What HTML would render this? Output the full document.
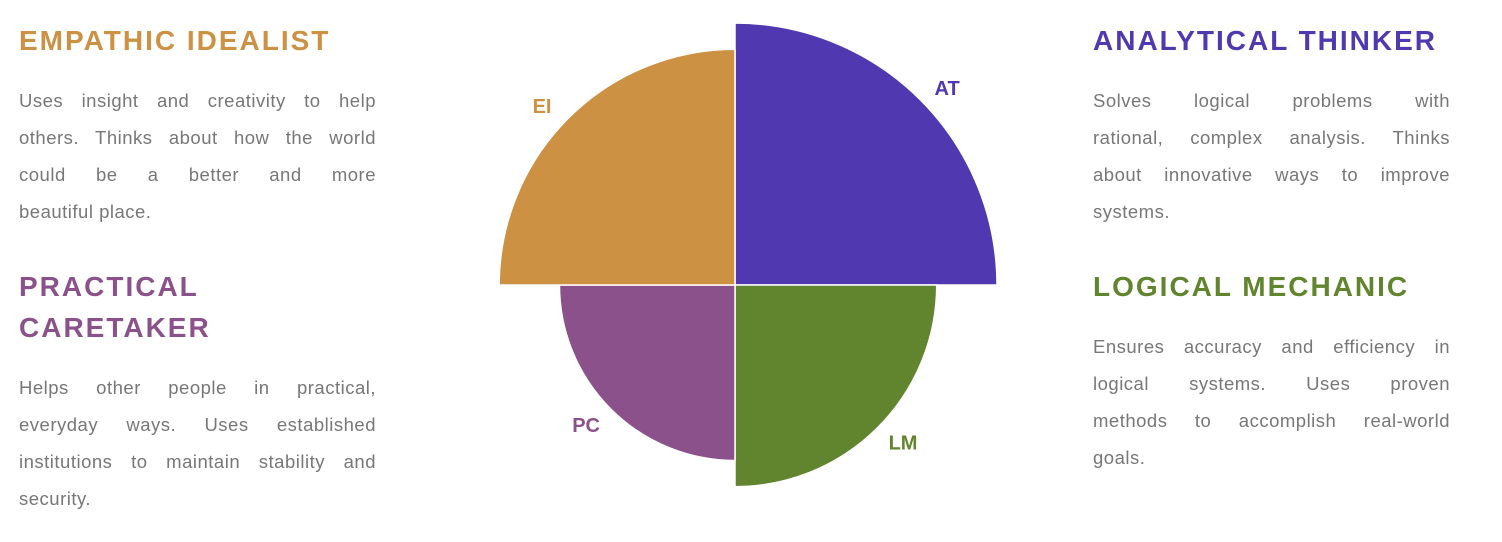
<!DOCTYPE html>
<html><head><meta charset="utf-8"><style>
body{margin:0;width:1502px;height:542px;background:#fff;font-family:"Liberation Sans",sans-serif;position:relative;overflow:hidden}
.col{position:absolute;width:357px}
h2{margin:0;font-size:28px;font-weight:bold;letter-spacing:2px;line-height:41px;position:absolute;left:0;width:380px}
p{margin:0;position:absolute;left:0;width:357px;font-size:18.5px;line-height:37px;color:#777;letter-spacing:0.5px}
p span{display:block;text-align:justify;text-align-last:justify;white-space:nowrap}
p span.l{text-align-last:left}
</style></head><body>
<div class="col" style="left:19px;top:0">
<h2 style="top:20px;color:#CC9143">EMPATHIC IDEALIST</h2>
<p style="top:82px"><span>Uses insight and creativity to help</span><span>others. Thinks about how the world</span><span>could be a better and more</span><span class="l">beautiful place.</span></p>
<h2 style="top:266px;color:#8B518B;width:240px">PRACTICAL CARETAKER</h2>
<p style="top:369px"><span>Helps other people in practical,</span><span>everyday ways. Uses established</span><span>institutions to maintain stability and</span><span class="l">security.</span></p>
</div>
<div class="col" style="left:1093px;top:0">
<h2 style="top:20px;color:#5038B0">ANALYTICAL THINKER</h2>
<p style="top:82px"><span>Solves logical problems with</span><span>rational, complex analysis. Thinks</span><span>about innovative ways to improve</span><span class="l">systems.</span></p>
<h2 style="top:266px;color:#61852F">LOGICAL MECHANIC</h2>
<p style="top:328px"><span>Ensures accuracy and efficiency in</span><span>logical systems. Uses proven</span><span>methods to accomplish real-world</span><span class="l">goals.</span></p>
</div>
<svg id="chart" width="1502" height="542" style="position:absolute;left:0;top:0"></svg>
<script>
const categories=["AT","LM","PC","EI"];
const values=[100,77,67,90];
const colors=["#5038B0","#61852F","#8B518B","#CC9143"];
const maxValue=100;
const cx=735,cy=285,maxR=262;
const rScale=v=>v/maxValue*maxR;
const svg=document.getElementById('chart');
const NS="http://www.w3.org/2000/svg";
categories.forEach((c,i)=>{
  const r=rScale(values[i]);
  const a0=-Math.PI/2+i*Math.PI/2,a1=a0+Math.PI/2;
  const x0=cx+r*Math.cos(a0),y0=cy+r*Math.sin(a0),x1=cx+r*Math.cos(a1),y1=cy+r*Math.sin(a1);
  const p=document.createElementNS(NS,'path');
  p.setAttribute('d',`M${cx},${cy}L${x0},${y0}A${r},${r} 0 0 1 ${x1},${y1}Z`);
  p.setAttribute('fill',colors[i]);p.setAttribute('stroke','#fff');p.setAttribute('stroke-width','1.5');
  
  
  svg.appendChild(p);
  const am=a0+Math.PI/4+(i%2===0?0.035:-0.035);
  const lr=r+28;
  const t=document.createElementNS(NS,'text');
  t.setAttribute('x',cx+lr*Math.cos(am));t.setAttribute('y',cy+lr*Math.sin(am)+8);
  t.setAttribute('text-anchor','middle');t.setAttribute('fill',colors[i]);
  t.setAttribute('font-family','Liberation Sans, sans-serif');t.setAttribute('font-weight','bold');t.setAttribute('font-size','20');
  t.textContent=c;
  
  
  svg.appendChild(t);
});
</script>
</body></html>
